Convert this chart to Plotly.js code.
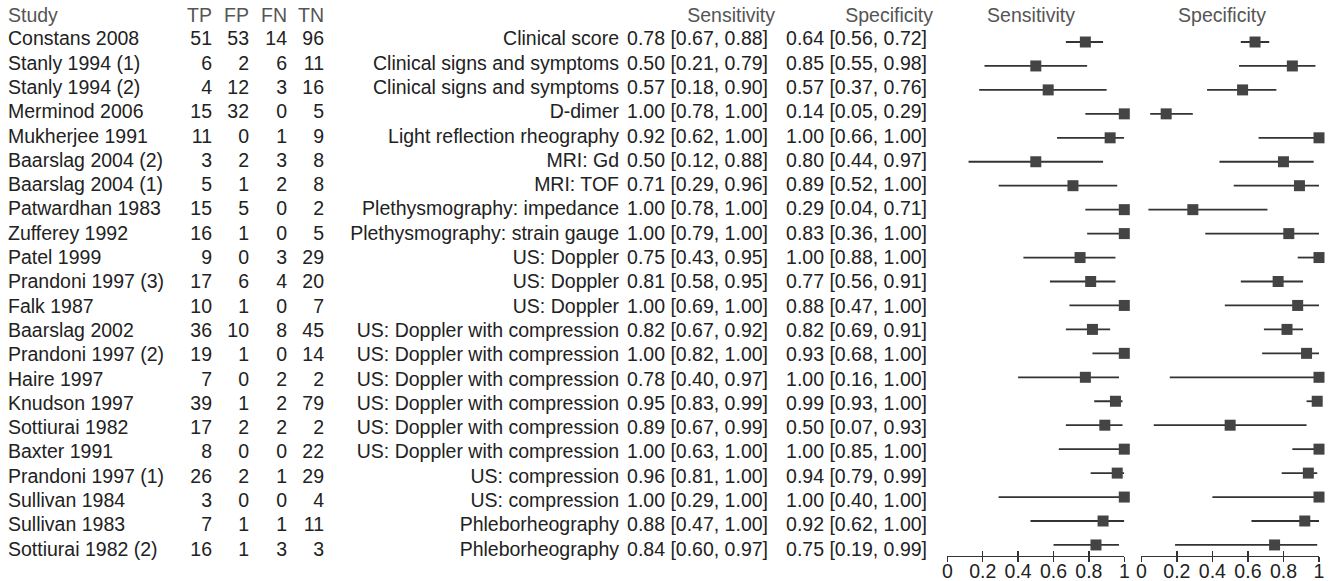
<!DOCTYPE html>
<html>
<head>
<meta charset="utf-8">
<script src="https://cdn.plot.ly/plotly-3.0.1.min.js"></script>
<style>html,body{margin:0;padding:0;background:#fff;}#chart{width:1330px;height:581px;}</style>
</head>
<body>
<div id="chart"></div>
<script>
// ---- data ----
const studies = ["Constans 2008","Stanly 1994 (1)","Stanly 1994 (2)","Merminod 2006","Mukherjee 1991","Baarslag 2004 (2)","Baarslag 2004 (1)","Patwardhan 1983","Zufferey 1992","Patel 1999","Prandoni 1997 (3)","Falk 1987","Baarslag 2002","Prandoni 1997 (2)","Haire 1997","Knudson 1997","Sottiurai 1982","Baxter 1991","Prandoni 1997 (1)","Sullivan 1984","Sullivan 1983","Sottiurai 1982 (2)"];
const tp = [51,6,4,15,11,3,5,15,16,9,17,10,36,19,7,39,17,8,26,3,7,16];
const fp = [53,2,12,32,0,2,1,5,1,0,6,1,10,1,0,1,2,0,2,0,1,1];
const fn = [14,6,3,0,1,3,2,0,0,3,4,0,8,0,2,2,2,0,1,0,1,3];
const tn = [96,11,16,5,9,8,8,2,5,29,20,7,45,14,2,79,2,22,29,4,11,3];
const tests = ["Clinical score","Clinical signs and symptoms","Clinical signs and symptoms","D-dimer","Light reflection rheography","MRI: Gd","MRI: TOF","Plethysmography: impedance","Plethysmography: strain gauge","US: Doppler","US: Doppler","US: Doppler","US: Doppler with compression","US: Doppler with compression","US: Doppler with compression","US: Doppler with compression","US: Doppler with compression","US: Doppler with compression","US: compression","US: compression","Phleborheography","Phleborheography"];
const sens   = [0.78,0.50,0.57,1.00,0.92,0.50,0.71,1.00,1.00,0.75,0.81,1.00,0.82,1.00,0.78,0.95,0.89,1.00,0.96,1.00,0.88,0.84];
const sensLo = [0.67,0.21,0.18,0.78,0.62,0.12,0.29,0.78,0.79,0.43,0.58,0.69,0.67,0.82,0.40,0.83,0.67,0.63,0.81,0.29,0.47,0.60];
const sensHi = [0.88,0.79,0.90,1.00,1.00,0.88,0.96,1.00,1.00,0.95,0.95,1.00,0.92,1.00,0.97,0.99,0.99,1.00,1.00,1.00,1.00,0.97];
const spec   = [0.64,0.85,0.57,0.14,1.00,0.80,0.89,0.29,0.83,1.00,0.77,0.88,0.82,0.93,1.00,0.99,0.50,1.00,0.94,1.00,0.92,0.75];
const specLo = [0.56,0.55,0.37,0.05,0.66,0.44,0.52,0.04,0.36,0.88,0.56,0.47,0.69,0.68,0.16,0.93,0.07,0.85,0.79,0.40,0.62,0.19];
const specHi = [0.72,0.98,0.76,0.29,1.00,0.97,1.00,0.71,1.00,1.00,0.91,1.00,0.91,1.00,1.00,1.00,0.93,1.00,0.99,1.00,1.00,0.99];
const colHeaders = ["TP","FP","FN","TN"];
const tickVals = [0,0.2,0.4,0.6,0.8,1];
const tickText = ["0","0.2","0.4","0.6","0.8","1"];

// ---- build ----
const FONT = '"Liberation Sans", Arial, Helvetica, sans-serif';
const FS = 19.5;
const BODY = '#222222';
const HEAD = '#555555';
const rowIdx = studies.map((_, i) => i);
const fmt = (e, l, h) => e.toFixed(2) + ' [' + l.toFixed(2) + ', ' + h.toFixed(2) + ']';
const sensTxt = sens.map((v, i) => fmt(v, sensLo[i], sensHi[i]));
const specTxt = spec.map((v, i) => fmt(v, specLo[i], specHi[i]));

function textCol(xpos, texts, pos, color, ys) {
  return {
    type: 'scatter', mode: 'text', xaxis: 'x', yaxis: 'y',
    x: texts.map(() => xpos), y: ys || rowIdx, text: texts,
    textposition: pos, textfont: {family: FONT, size: FS, color: color || BODY},
    hoverinfo: 'skip', showlegend: false, cliponaxis: false
  };
}
const HY = -0.95;
const traces = [
  textCol(8, studies, 'middle right'),
  textCol(212, tp.map(String), 'middle left'),
  textCol(249, fp.map(String), 'middle left'),
  textCol(287, fn.map(String), 'middle left'),
  textCol(324, tn.map(String), 'middle left'),
  textCol(619, tests, 'middle left'),
  textCol(768, sensTxt, 'middle left'),
  textCol(927, specTxt, 'middle left'),
  textCol(8, ['Study'], 'middle right', HEAD, [HY]),
  textCol(212, [colHeaders[0]], 'middle left', HEAD, [HY]),
  textCol(249, [colHeaders[1]], 'middle left', HEAD, [HY]),
  textCol(287, [colHeaders[2]], 'middle left', HEAD, [HY]),
  textCol(324, [colHeaders[3]], 'middle left', HEAD, [HY]),
  textCol(775, ['Sensitivity'], 'middle left', HEAD, [HY]),
  textCol(933, ['Specificity'], 'middle left', HEAD, [HY]),
  textCol(1031, ['Sensitivity'], 'middle center', HEAD, [HY]),
  textCol(1222, ['Specificity'], 'middle center', HEAD, [HY])
];

function forest(est, lo, hi, xa) {
  return {
    type: 'scatter', mode: 'markers', xaxis: xa, yaxis: 'y2',
    x: est, y: rowIdx,
    marker: {symbol: 'square', size: 11, color: '#444444', line: {width: 0}},
    error_x: {type: 'data', symmetric: false,
      array: est.map((v, i) => hi[i] - v), arrayminus: est.map((v, i) => v - lo[i]),
      width: 0, thickness: 1.8, color: '#333333'},
    hoverinfo: 'skip', showlegend: false, cliponaxis: false
  };
}
traces.push(forest(sens, sensLo, sensHi, 'x2'));
traces.push(forest(spec, specLo, specHi, 'x3'));
// empty traces so the overlaying tick axes get drawn
traces.push({type: 'scatter', mode: 'markers', x: [], y: [], xaxis: 'x4', yaxis: 'y2', showlegend: false, hoverinfo: 'skip'});
traces.push({type: 'scatter', mode: 'markers', x: [], y: [], xaxis: 'x5', yaxis: 'y2', showlegend: false, hoverinfo: 'skip'});

const axBase = {
  range: [0, 1], tickvals: tickVals, ticktext: tickText,
  showgrid: false, zeroline: false, showline: true, linecolor: '#333333', linewidth: 1.5,
  ticks: 'outside', ticklen: 5, tickwidth: 1.5, tickcolor: '#333333',
  ticklabelstandoff: -8,
  tickfont: {family: FONT, size: FS, color: BODY}, fixedrange: true
};
const axOver = {
  range: [0, 1], tickvals: tickVals, showticklabels: false,
  showgrid: false, zeroline: false, showline: false,
  ticks: 'inside', ticklen: 5, tickwidth: 1.5, tickcolor: '#333333', fixedrange: true
};
const H = 581, lineY = 555.7;
const layout = {
  width: 1330, height: 581,
  margin: {l: 0, r: 0, t: 0, b: 0, pad: 0},
  paper_bgcolor: '#ffffff', plot_bgcolor: 'rgba(0,0,0,0)',
  hovermode: false, showlegend: false,
  xaxis: {domain: [0, 1], range: [0, 1330], visible: false, fixedrange: true},
  yaxis: {domain: [0, 1], range: [22.243, -1.667], visible: false, fixedrange: true},
  yaxis2: {domain: [(H - lineY) / H, 1], range: [21.449, -1.754], visible: false, fixedrange: true},
  xaxis2: Object.assign({}, axBase, {domain: [947.3 / 1330, 1124.3 / 1330], anchor: 'y2'}),
  xaxis3: Object.assign({}, axBase, {domain: [1141.3 / 1330, 1319 / 1330], anchor: 'y2'}),
  xaxis4: Object.assign({}, axOver, {overlaying: 'x2', anchor: 'y2'}),
  xaxis5: Object.assign({}, axOver, {overlaying: 'x3', anchor: 'y2'})
};
Plotly.newPlot('chart', traces, layout, {staticPlot: true, displayModeBar: false});
</script>
</body>
</html>
